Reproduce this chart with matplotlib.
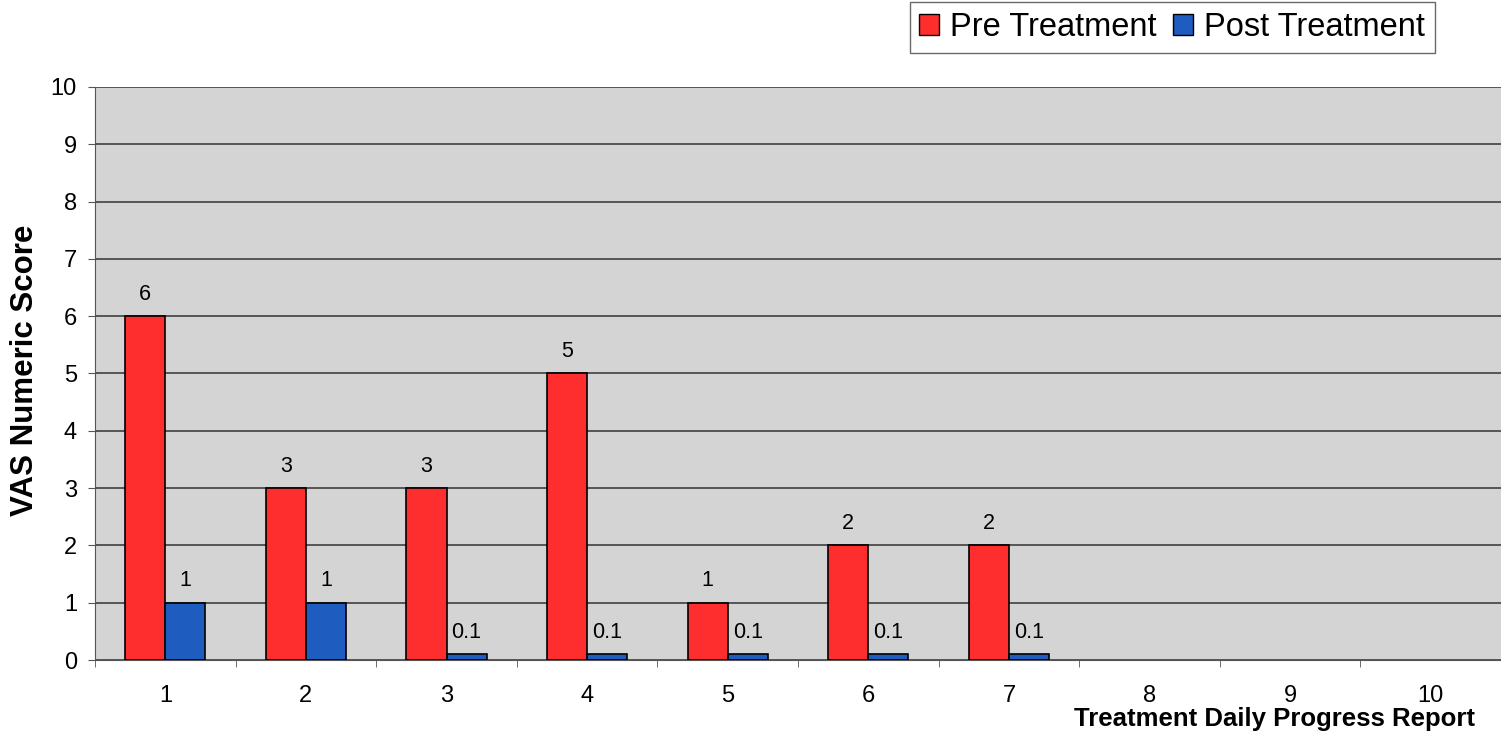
import matplotlib
matplotlib.use("Agg")
import matplotlib.pyplot as plt
import numpy as np
from matplotlib.patches import Patch

plt.rcParams['font.family'] = ['Liberation Sans', 'DejaVu Sans']

categories = [1, 2, 3, 4, 5, 6, 7, 8, 9, 10]
pre_values = [6, 3, 3, 5, 1, 2, 2]
post_values = [1, 1, 0.1, 0.1, 0.1, 0.1, 0.1]
pre_labels = ["6", "3", "3", "5", "1", "2", "2"]
post_labels = ["1", "1", "0.1", "0.1", "0.1", "0.1", "0.1"]
yticks = list(range(0, 11))

red = '#FF2E2E'
blue = '#1F5CBF'
bg = '#D4D4D4'

fig = plt.figure(figsize=(15.01, 7.34), dpi=100)
ax = fig.add_axes([0.0633, 0.1008, 0.9367, 0.7807])
ax.set_facecolor(bg)

w = 0.285
xpre = np.array(categories[:len(pre_values)], dtype=float)
ax.bar(xpre - w / 2, pre_values, width=w, color=red, edgecolor='black', linewidth=1.2, zorder=3)
ax.bar(xpre + w / 2, post_values, width=w, color=blue, edgecolor='black', linewidth=1.2, zorder=3)

for x, v, t in zip(xpre, pre_values, pre_labels):
    ax.text(x - w / 2, v + 0.2, t, ha='center', va='bottom', fontsize=15.5, zorder=4)
for x, v, t in zip(xpre, post_values, post_labels):
    ax.text(x + w / 2, v + 0.2, t, ha='center', va='bottom', fontsize=15.5, zorder=4)

ax.set_xlim(0.5, 10.5)
ax.set_ylim(0, 10)
ax.set_yticks(yticks)
ax.set_yticklabels([str(v) for v in yticks], fontsize=17)
ax.set_xticks(categories)
ax.set_xticklabels([str(c) for c in categories], fontsize=17)
ax.tick_params(axis='x', which='major', length=0, pad=18)
ax.set_xticks(np.arange(0.5, 11, 1), minor=True)
ax.tick_params(axis='x', which='minor', length=5, color='#555555', direction='out')
ax.tick_params(axis='y', which='major', length=5, color='#555555', direction='out', pad=8)

ax.yaxis.grid(True, color='#333333', linewidth=1.1, zorder=1)
ax.set_axisbelow(True)
for s in ['top', 'right']:
    ax.spines[s].set_visible(False)
ax.spines['left'].set_color('#555555')
ax.spines['bottom'].set_color('#555555')

ax.set_ylabel('VAS Numeric Score', fontsize=22.5, fontweight='bold', va='center')
ax.yaxis.set_label_coords(-0.05, 0.506)
fig.text(0.983, 0.004, 'Treatment Daily Progress Report', ha='right', va='bottom',
         fontsize=18.5, fontweight='bold')

handles = [Patch(facecolor=red, edgecolor='black', linewidth=1.0, label='Pre Treatment'),
           Patch(facecolor=blue, edgecolor='black', linewidth=1.0, label='Post Treatment')]
leg = fig.legend(handles=handles, loc='upper right', bbox_to_anchor=(0.956, 0.997), ncol=2,
                 fontsize=23.5, frameon=True, fancybox=False, handlelength=0.6, handleheight=0.6,
                 handletextpad=0.35, columnspacing=0.5, borderpad=0.3, borderaxespad=0.0)
leg.get_frame().set_edgecolor('#444444')
leg.get_frame().set_linewidth(1.0)

fig.savefig('out.png', dpi=100, facecolor='white')
